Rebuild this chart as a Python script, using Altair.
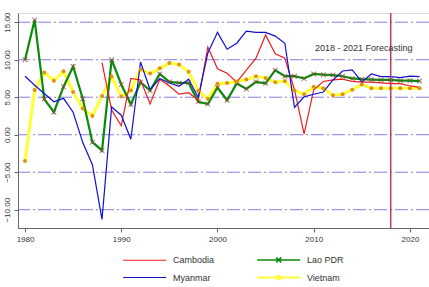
import altair as alt
import pandas as pd

years = list(range(1980, 2022))

cambodia = [None]*8 + [9.6, 3.3, 1.2, 7.5, 7.3, 4.1, 7.4, 6.5, 5.4, 5.6, 4.6, 11.7,
                       8.8, 8.2, 7.0, 8.6, 10.2, 13.3, 10.8, 10.2, 6.0, 0.1,
                       6.0, 7.1, 7.3, 7.4, 7.1, 7.0, 7.0, 6.9, 6.8, 6.8, 6.5, 6.3]
lao = [10.0, 15.3, 4.75, 3.0, 6.4, 9.1, 4.8, -1.0, -2.1, 10.0,
       6.7, 4.05, 7.0, 5.9, 8.1, 7.05, 6.9, 6.9, 4.4, 4.1,
       6.3, 4.6, 6.85, 6.1, 7.05, 6.85, 8.6, 7.8, 7.8, 7.5,
       8.1, 8.0, 7.95, 7.8, 7.5, 7.4, 7.35, 7.3, 7.3, 7.2, 7.2, 7.15]
myanmar = [7.8, 6.6, 5.5, 4.4, 4.85, 3.0, -1.05, -4.0, -11.3, 3.7,
           2.6, -0.6, 9.7, 6.0, 7.5, 6.9, 6.45, 7.4, 5.0, 10.9,
           13.65, 11.4, 12.2, 13.8, 13.65, 13.65, 13.15, 12.2, 3.65, 5.05,
           5.4, 5.7, 7.3, 8.5, 8.65, 7.05, 8.1, 7.75, 7.75, 7.6, 7.8, 7.75]
vietnam = [-3.5, 5.95, 8.3, 7.2, 8.45, 5.7, 3.5, 2.5, 5.15, 7.75,
           5.1, 5.9, 8.7, 8.15, 8.85, 9.55, 9.35, 8.4, 5.85, 4.8,
           6.8, 6.9, 7.1, 7.35, 7.8, 7.55, 7.0, 7.15, 5.9, 5.4,
           6.4, 6.2, 5.25, 5.4, 6.0, 6.7, 6.2, 6.2, 6.2, 6.2, 6.2, 6.2]

countries = ["Cambodia", "Lao PDR", "Myanmar", "Vietnam"]
colors = ["#ee1c1c", "#0a8a0a", "#1010d0", "#ffff33"]
widths = {"Cambodia": 1.2, "Lao PDR": 2.2, "Myanmar": 1.2, "Vietnam": 3.0}
grid_vals = [-10, -5, 0, 5, 10, 15]
x_ticks = [1980, 1990, 2000, 2010, 2020]

series = {"Cambodia": cambodia, "Lao PDR": lao, "Myanmar": myanmar, "Vietnam": vietnam}
rows = []
for c, vals in series.items():
    for y, v in zip(years, vals):
        if v is not None:
            rows.append({"year": y, "growth": v, "country": c})
df = pd.DataFrame(rows)

FONT = "Liberation Sans"
xscale = alt.Scale(domain=[1979.27, 2021.98], nice=False, zero=False)
yscale = alt.Scale(domain=[-12.44, 16.23], nice=False, zero=False)
cscale = alt.Scale(domain=countries, range=colors)

xaxis = alt.Axis(values=x_ticks, format="d", title=None, grid=False, domainColor="#666",
                 tickColor="#666", tickSize=4, labelFont=FONT, labelFontSize=8,
                 labelColor="#333", labelPadding=3)
yaxis = alt.Axis(values=grid_vals, format=".2f", title=None, grid=False, domainColor="#666",
                 tickColor="#666", tickSize=4, labelFont=FONT, labelFontSize=8,
                 labelColor="#333", labelAngle=270, labelAlign="center",
                 labelBaseline="bottom", labelPadding=3)

# legend symbols: a long line with the series marker in its middle
LINE = "M-1,0L9,0"
X_MARK = "M3.4,-0.6L4.6,0.6M3.4,0.6L4.6,-0.6"
DOT = "M3.55,0A0.45,0.45 0 1,0 4.45,0A0.45,0.45 0 1,0 3.55,0Z"
shape_expr = ("datum.value === 'Lao PDR' ? '%s' : datum.value === 'Vietnam' ? '%s' : '%s'"
              % (LINE + X_MARK, LINE + DOT, LINE))
fill_expr = "datum.value === 'Vietnam' ? '#e0901e' : 'transparent'"
sw_expr = "datum.value === 'Vietnam' ? 1.8 : datum.value === 'Lao PDR' ? 1.5 : 1.1"

legend = alt.Legend(orient="none", legendX=105, legendY=242, columns=2, direction="horizontal",
                    title=None, symbolType={"expr": shape_expr}, symbolSize=74,
                    symbolStrokeWidth={"expr": sw_expr},
                    symbolFillColor={"expr": fill_expr},
                    labelFont=FONT, labelFontSize=9,
                    labelColor="#333", labelOffset=41, columnPadding=38,
                    rowPadding=5)

grid = alt.Chart(pd.DataFrame({"g": grid_vals})).mark_rule(
    color="#7465dd", strokeDash=[13, 3, 2, 3], strokeWidth=1, opacity=0.85
).encode(y=alt.Y("g:Q", scale=yscale, axis=yaxis))

def line_layer(c):
    return alt.Chart(df[df.country == c]).mark_line(strokeWidth=widths[c]).encode(
        x=alt.X("year:Q", scale=xscale, axis=xaxis),
        y=alt.Y("growth:Q", scale=yscale, axis=yaxis),
        color=alt.Color("country:N", scale=cscale, legend=legend),
    )

layers_lines = [line_layer(c) for c in ["Vietnam", "Lao PDR", "Cambodia", "Myanmar"]]

lao_pts = alt.Chart(df[df.country == "Lao PDR"]).mark_point(
    shape="M-1,-1L1,1M-1,1L1,-1", filled=False, color="#8a4a3a", strokeWidth=1.1, size=22
).encode(x=alt.X("year:Q", scale=xscale), y=alt.Y("growth:Q", scale=yscale))

vn_pts = alt.Chart(df[df.country == "Vietnam"]).mark_circle(
    color="#e0901e", size=16, opacity=1
).encode(x=alt.X("year:Q", scale=xscale), y=alt.Y("growth:Q", scale=yscale))

vline = alt.Chart(pd.DataFrame({"x": [2018]})).mark_rule(
    color="#b0406a", strokeWidth=1.5
).encode(x=alt.X("x:Q", scale=xscale))

label = alt.Chart(pd.DataFrame({"x": [2015.2], "y": [11.5], "t": ["2018 - 2021 Forecasting"]})).mark_text(
    font=FONT, fontSize=9, color="#333"
).encode(x=alt.X("x:Q", scale=xscale), y=alt.Y("y:Q", scale=yscale), text="t:N")

chart = alt.layer(grid, *layers_lines, lao_pts, vn_pts, vline, label).properties(
    width=411, height=215,
    autosize=alt.AutoSizeParams(type="none"),
    padding={"left": 18, "top": 13, "right": 0, "bottom": 59},
).configure_view(stroke=None).configure(background="white")

chart.save("out.html", embed_options={"renderer": "svg", "actions": False})
